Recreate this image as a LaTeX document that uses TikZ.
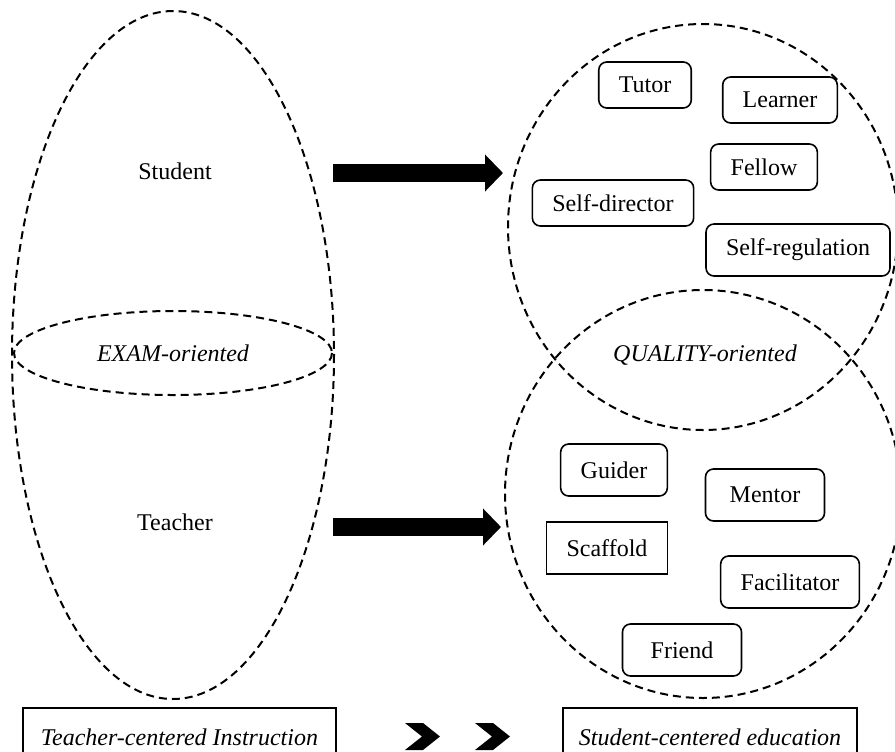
\documentclass[tikz,border=0pt]{standalone}
\usepackage{fontspec}
\setmainfont{Liberation Serif}
\usetikzlibrary{arrows.meta}

\tikzset{
	ring/.style={dash pattern=on 4pt off 2.5pt, line width=1pt},
	rolebox/.style={draw, rounded corners=4pt, line width=0.8pt, inner xsep=10pt, minimum height=23pt},
	sidebox/.style={draw, line width=0.7pt, minimum height=29pt, font=\fontsize{12}{14}\selectfont\itshape},
	bigarrow/.style={line width=9pt, -{Triangle[length=9pt, width=18pt]}}
}

\begin{document}
\begin{tikzpicture}[x=0.5pt, y=-0.5pt, every node/.style={font=\fontsize{12}{14}\selectfont}]
	\clip (0,0) rectangle (895,751);
	
	% left side
	\draw[ring] (173,355) ellipse [x radius=161, y radius=344];
	\draw[ring] (173,353) ellipse [x radius=159, y radius=42];
	\node (student) at (175,171) {Student};
	\node (exam) at (173,353) {\itshape EXAM-oriented};
	\node (teacher) at (175,522) {Teacher};
	
	% right side
	\draw[ring] (703,227) ellipse [x radius=195, y radius=203];
	\draw[ring] (703,494) ellipse [x radius=198, y radius=204];
	\node (quality) at (705,355) {\itshape QUALITY-oriented};
	
	\node[rolebox] (tutor) at (645,85) {Tutor};
	\node[rolebox] (learner) at (780,100) {Learner};
	\node[rolebox] (fellow) at (764,167) {Fellow};
	\node[rolebox] (selfdir) at (613,203) {Self-director};
	\node[rolebox, minimum height=26pt] (selfreg) at (798,250) {Self-regulation};
	
	\node[rolebox, minimum height=26pt] (guider) at (614,470) {Guider};
	\node[rolebox, minimum height=26pt, minimum width=59.5pt] (mentor) at (765,495) {Mentor};
	\node[rolebox, minimum height=26pt, sharp corners] (scaffold) at (607,548) {Scaffold};
	\node[rolebox, minimum height=26pt] (facil) at (790,582) {Facilitator};
	\node[rolebox, minimum height=26pt, minimum width=59.5pt] (friend) at (682,650) {Friend};
	
	% arrows
	\coordinate (upS) at (333,173);
	\coordinate (upE) at (503,173);
	\coordinate (loS) at (333,527);
	\coordinate (loE) at (501,527);
	\draw[bigarrow] (upS) -- (upE);
	\draw[bigarrow] (loS) -- (loE);
	
	% bottom row
	\node[sidebox, minimum width=156.5pt] (tci) at (179.5,737) {Teacher-centered Instruction};
	\node[sidebox, minimum width=147pt] (sce) at (710,737) {Student-centered education};
	\foreach \cx in {422,492}
		\fill ({\cx-17},723) -- ({\cx+1},723) -- ({\cx+18},736.5) -- ({\cx+1},750) -- ({\cx-17},750) -- (\cx,736.5) -- cycle;
\end{tikzpicture}
\end{document}
